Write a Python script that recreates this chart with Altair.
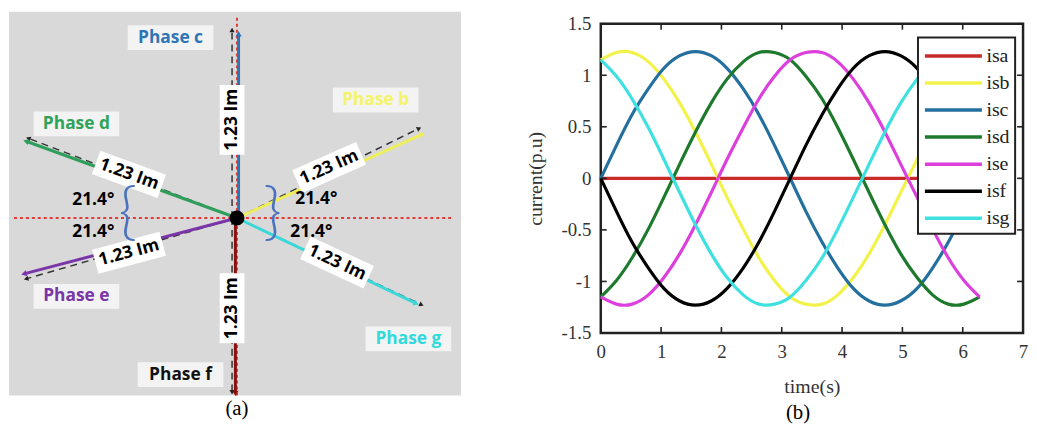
import altair as alt
import numpy as np
import pandas as pd

# ---------------- panel (a): phasor diagram (drawing units, 1.23 Im ~ 1.25 units) ----------------
phase_names = ["Phase b", "Phase c", "Phase d", "Phase e", "Phase f", "Phase g"]
phase_colors = ["#eeee5a", "#2e75b6", "#2f9e5a", "#7a35a8", "#8b1010", "#3ad8d8"]
label_colors = ["#f4f46a", "#2e75b6", "#2fa35a", "#7a35a8", "#111111", "#33dada"]
# solid phasor arrows: drawn angle (deg) and drawn length
phasor_angle = [24.3, 90.0, 160.0, 194.7, 270.0, 334.5]
phasor_len = [1.276, 1.156, 1.41, 1.383, 1.10, 1.247]
phasor_dx = [0.0, 0.01, 0.0, 0.0, -0.01, 0.0]
# dashed magnitude arrows
dash_angle = [26.2, 90.0, 159.1, 196.1, 270.0, 334.8]
dash_len = [1.275, 1.181, 1.404, 1.379, 1.094, 1.281]
dash_dx = [0.0, -0.031, 0.0, 0.0, -0.031, 0.0]
# phase name labels
name_x = [0.875, -0.419, -1.0125, -1.0125, -0.356, 1.081]
name_y = [0.744, 1.1375, 0.594, -0.494, -0.9875, -0.7625]
# magnitude labels
mag_text = ["1.23 Im"] * 6
mag_x = [0.581, -0.031, -0.681, -0.681, -0.031, 0.631]
mag_y = [0.319, 0.619, 0.275, -0.219, -0.569, -0.281]
mag_rot = [336, 270, 20, 345, 270, 25]
# angle labels and braces
ang_text = ["21.4°", "21.4°", "21.4°", "21.4°"]
ang_x = [-0.906, -0.906, 0.50, 0.469]
ang_y = [0.1125, -0.0875, 0.119, -0.0875]
brace_text = ["{", "}"]
brace_x = [-0.6875, 0.225]
brace_y = [0.025, 0.025]
# panel extents (drawing units)
PANEL_X = [-1.4375, 1.4125]
PANEL_Y = [-1.119, 1.30]
AXIS_H = [-1.406, 1.35]
AXIS_V = [-1.119, 1.2625]
VIEW_Y = [-0.725, 1.225]

# ---------------- panel (b): stator currents ----------------
t_vals = [0, 0.26, 0.52, 0.79, 1.05, 1.31, 1.57, 1.83, 2.09, 2.36, 2.62, 2.88, 3.14,
          3.40, 3.67, 3.93, 4.19, 4.45, 4.71, 4.97, 5.24, 5.50, 5.76, 6.02, 6.28]
isa = [0.0] * 25
isb = [1.15, 1.22, 1.22, 1.13, 0.96, 0.73, 0.45, 0.14, -0.18, -0.49, -0.77, -0.99, -1.15,
       -1.22, -1.22, -1.13, -0.96, -0.73, -0.45, -0.14, 0.18, 0.49, 0.77, 0.99, 1.15]
isc = [0, 0.32, 0.62, 0.87, 1.07, 1.19, 1.23, 1.19, 1.07, 0.87, 0.62, 0.32, 0,
       -0.32, -0.62, -0.87, -1.07, -1.19, -1.23, -1.19, -1.07, -0.87, -0.62, -0.32, 0]
isd = [-1.15, -0.99, -0.77, -0.49, -0.18, 0.14, 0.45, 0.73, 0.96, 1.13, 1.22, 1.22, 1.15,
       0.99, 0.77, 0.49, 0.18, -0.14, -0.45, -0.73, -0.96, -1.13, -1.22, -1.22, -1.15]
ise = [-1.15, -1.22, -1.22, -1.13, -0.96, -0.73, -0.45, -0.14, 0.18, 0.49, 0.77, 0.99, 1.15,
       1.22, 1.22, 1.13, 0.96, 0.73, 0.45, 0.14, -0.18, -0.49, -0.77, -0.99, -1.15]
isf = [0, -0.32, -0.62, -0.87, -1.07, -1.19, -1.23, -1.19, -1.07, -0.87, -0.62, -0.32, 0,
       0.32, 0.62, 0.87, 1.07, 1.19, 1.23, 1.19, 1.07, 0.87, 0.62, 0.32, 0]
isg = [1.15, 0.99, 0.77, 0.49, 0.18, -0.14, -0.45, -0.73, -0.96, -1.13, -1.22, -1.22, -1.15,
       -0.99, -0.77, -0.49, -0.18, 0.14, 0.45, 0.73, 0.96, 1.13, 1.22, 1.22, 1.15]
series_names = ["isa", "isb", "isc", "isd", "ise", "isf", "isg"]
series_colors = ["#c92a2a", "#f2f24a", "#236f9e", "#1d7a2c", "#dd3fdd", "#000000", "#3fe0e0"]
x_ticks = [0, 1, 2, 3, 4, 5, 6, 7]
y_ticks = [-1.5, -1, -0.5, 0, 0.5, 1, 1.5]

SERIF = "Liberation Serif"
SANS = "Open Sans"

# ======================= build panel (a) =======================
def segs(angles, lens, dxs):
    rows = []
    for n, a, L, dx in zip(phase_names, angles, lens, dxs):
        r = np.deg2rad(a)
        rows.append(dict(phase=n, x=dx, y=0.0, x2=dx + L * np.cos(r), y2=L * np.sin(r),
                         rot=(90 - a) % 360))
    return pd.DataFrame(rows)

df_solid = segs(phasor_angle, phasor_len, phasor_dx)
df_dash = segs(dash_angle, dash_len, dash_dx)

hw_name = 0.27
df_names = pd.DataFrame(dict(label=phase_names, x=name_x, y=name_y, tcol=label_colors))
df_names["bx1"] = df_names["x"] - hw_name
df_names["bx2"] = df_names["x"] + hw_name

hl_mag = 0.22
mr = np.deg2rad(-np.array(mag_rot, dtype=float))
df_mag = pd.DataFrame(dict(label=mag_text, x=mag_x, y=mag_y, rot=mag_rot))
df_mag["bx1"] = df_mag["x"] - hl_mag * np.cos(mr)
df_mag["bx2"] = df_mag["x"] + hl_mag * np.cos(mr)
df_mag["by1"] = df_mag["y"] - hl_mag * np.sin(mr)
df_mag["by2"] = df_mag["y"] + hl_mag * np.sin(mr)

df_ang = pd.DataFrame(dict(label=ang_text, x=ang_x, y=ang_y))
df_brace = pd.DataFrame(dict(label=brace_text, x=brace_x, y=brace_y))
df_cap_a = pd.DataFrame(dict(label=["(a)"], x=[0.0], y=[-1.206]))
df_center = pd.DataFrame(dict(x=[0.0], y=[0.0]))

xs = alt.Scale(domain=PANEL_X, nice=False, zero=False)
ys = alt.Scale(domain=VIEW_Y, nice=False, zero=False)
X = lambda f="x": alt.X(f"{f}:Q", scale=xs, axis=None)
Y = lambda f="y": alt.Y(f"{f}:Q", scale=ys, axis=None)
phase_color = alt.Color("phase:N", scale=alt.Scale(domain=phase_names, range=phase_colors), legend=None)

bg = alt.Chart(df_center).mark_rect(color="#d9d9d9").encode(
    x=alt.datum(PANEL_X[0], scale=xs, axis=None), x2=alt.datum(PANEL_X[1]),
    y=alt.datum(PANEL_Y[0], scale=ys, axis=None), y2=alt.datum(PANEL_Y[1]))

red_h = alt.Chart(df_center).mark_rule(color="#e53935", strokeWidth=2, strokeDash=[3, 3]).encode(
    x=alt.datum(AXIS_H[0], scale=xs, axis=None), x2=alt.datum(AXIS_H[1]), y=Y())
red_v = alt.Chart(df_center).mark_rule(color="#e53935", strokeWidth=2, strokeDash=[3, 3]).encode(
    y=alt.datum(AXIS_V[0], scale=ys, axis=None), y2=alt.datum(AXIS_V[1]), x=X())

dash_lines = alt.Chart(df_dash).mark_rule(color="#333333", strokeWidth=1.5, strokeDash=[7, 5]).encode(
    x=X(), y=Y(), x2="x2:Q", y2="y2:Q")
dash_heads = alt.Chart(df_dash).mark_point(shape="triangle", filled=True, color="#222222",
                                           size=28, opacity=1).encode(
    x=X("x2"), y=Y("y2"), angle=alt.Angle("rot:Q", scale=None))

solid_lines = alt.Chart(df_solid).mark_rule(strokeWidth=3, strokeCap="butt").encode(
    x=X(), y=Y(), x2="x2:Q", y2="y2:Q", color=phase_color)
solid_heads = alt.Chart(df_solid).mark_point(shape="triangle", filled=True, size=40, opacity=1).encode(
    x=X("x2"), y=Y("y2"), angle=alt.Angle("rot:Q", scale=None), color=phase_color)

center_dot = alt.Chart(df_center).mark_point(filled=True, color="black", size=230, opacity=1).encode(
    x=X(), y=Y())

name_boxes = alt.Chart(df_names).mark_rule(color="#f3f3f3", strokeWidth=25, strokeCap="butt").encode(
    x=X("bx1"), x2="bx2:Q", y=Y())
name_text = alt.Chart(df_names).mark_text(font=SANS, fontWeight="bold", fontSize=17.5).encode(
    x=X(), y=Y(), text="label:N", color=alt.Color("tcol:N", scale=None))

mag_boxes = alt.Chart(df_mag).mark_rule(color="white", strokeWidth=25, strokeCap="butt").encode(
    x=X("bx1"), x2="bx2:Q", y=Y("by1"), y2="by2:Q")
mag_labels = alt.Chart(df_mag).mark_text(font=SANS, fontWeight="bold", fontSize=17.5, color="black").encode(
    x=X(), y=Y(), text="label:N", angle=alt.Angle("rot:Q", scale=None))

ang_labels = alt.Chart(df_ang).mark_text(font=SANS, fontWeight="bold", fontSize=17.5, color="black").encode(
    x=X(), y=Y(), text="label:N")
braces = alt.Chart(df_brace).mark_text(font="Lato", fontWeight=300, fontSize=64, color="#4a72c0").encode(
    x=X(), y=Y(), text="label:N")
cap_a = alt.Chart(df_cap_a).mark_text(font=SERIF, fontSize=21, color="black").encode(
    x=X(), y=Y(), text="label:N")

left = alt.layer(bg, red_h, red_v, dash_lines, dash_heads, solid_lines, solid_heads,
                 mag_boxes, name_boxes, center_dot, name_text, mag_labels, ang_labels,
                 braces, cap_a).properties(
    width=456, height=312, view=alt.ViewBackground(stroke="transparent"))

# ======================= build panel (b) =======================
rows = []
for name, vals in zip(series_names, [isa, isb, isc, isd, ise, isf, isg]):
    for t, v in zip(t_vals, vals):
        rows.append(dict(t=t, current=v, series=name))
df_lines = pd.DataFrame(rows)
df_xt = pd.DataFrame(dict(t=x_ticks))
df_yt = pd.DataFrame(dict(current=y_ticks))

W, H = 426, 312
TK = 6
xsb = alt.Scale(domain=[0, 7], nice=False, zero=False)
ysb = alt.Scale(domain=[-1.5, 1.5], nice=False, zero=False)
ax_common = dict(grid=False, domain=False, ticks=False, labelFont=SERIF, labelFontSize=19,
                 labelColor="#333333", labelPadding=10, labelFlush=False, titleFont=SERIF,
                 titleFontSize=20, titleFontWeight="normal", titleColor="#333333")
XB = alt.X("t:Q", scale=xsb, title="time(s)",
           axis=alt.Axis(values=x_ticks, titlePadding=15, **ax_common))
YB = alt.Y("current:Q", scale=ysb, title="current(p.u)",
           axis=alt.Axis(values=y_ticks, labelExpr="datum.value + ''", titlePadding=16, **ax_common))

lines = alt.Chart(df_lines).mark_line(strokeWidth=3.2, interpolate="natural").encode(
    x=XB, y=YB,
    color=alt.Color("series:N", scale=alt.Scale(domain=series_names, range=series_colors),
                    legend=alt.Legend(title=None, orient="none", legendX=320, legendY=14,
                                      symbolType="M-1,0H4", symbolSize=529, symbolStrokeWidth=3.5,
                                      labelFont=SERIF, labelFontSize=20, labelColor="#222222",
                                      fillColor="white", strokeColor="#222222", padding=5,
                                      rowPadding=3.3, labelOffset=37)),
    order=alt.Order("t:Q"))

tick_style = dict(color="#222222", strokeWidth=1.6)
t_bottom = alt.Chart(df_xt).mark_rule(**tick_style).encode(x=XB, y=alt.value(H), y2=alt.value(H - TK))
t_top = alt.Chart(df_xt).mark_rule(**tick_style).encode(x=XB, y=alt.value(0), y2=alt.value(TK))
t_left = alt.Chart(df_yt).mark_rule(**tick_style).encode(y=YB, x=alt.value(0), x2=alt.value(TK))
t_right = alt.Chart(df_yt).mark_rule(**tick_style).encode(y=YB, x=alt.value(W), x2=alt.value(W - TK))
cap_b = alt.Chart(pd.DataFrame(dict(label=["(b)"]))).mark_text(font=SERIF, fontSize=21, color="black").encode(
    x=alt.value(199), y=alt.value(393), text="label:N")

right = alt.layer(lines, t_bottom, t_top, t_left, t_right, cap_b).properties(
    width=W, height=H, view=alt.ViewBackground(stroke="#222222", strokeWidth=2.5))

chart = alt.hconcat(left, right, spacing=141, bounds="flush").resolve_scale(
    x="independent", y="independent", color="independent").properties(
    padding={"left": 0, "top": 1, "right": 0, "bottom": 0}, background="white"
).configure_legend(strokeWidth=2)

chart.save("out.html", embed_options={"renderer": "svg", "actions": False})
